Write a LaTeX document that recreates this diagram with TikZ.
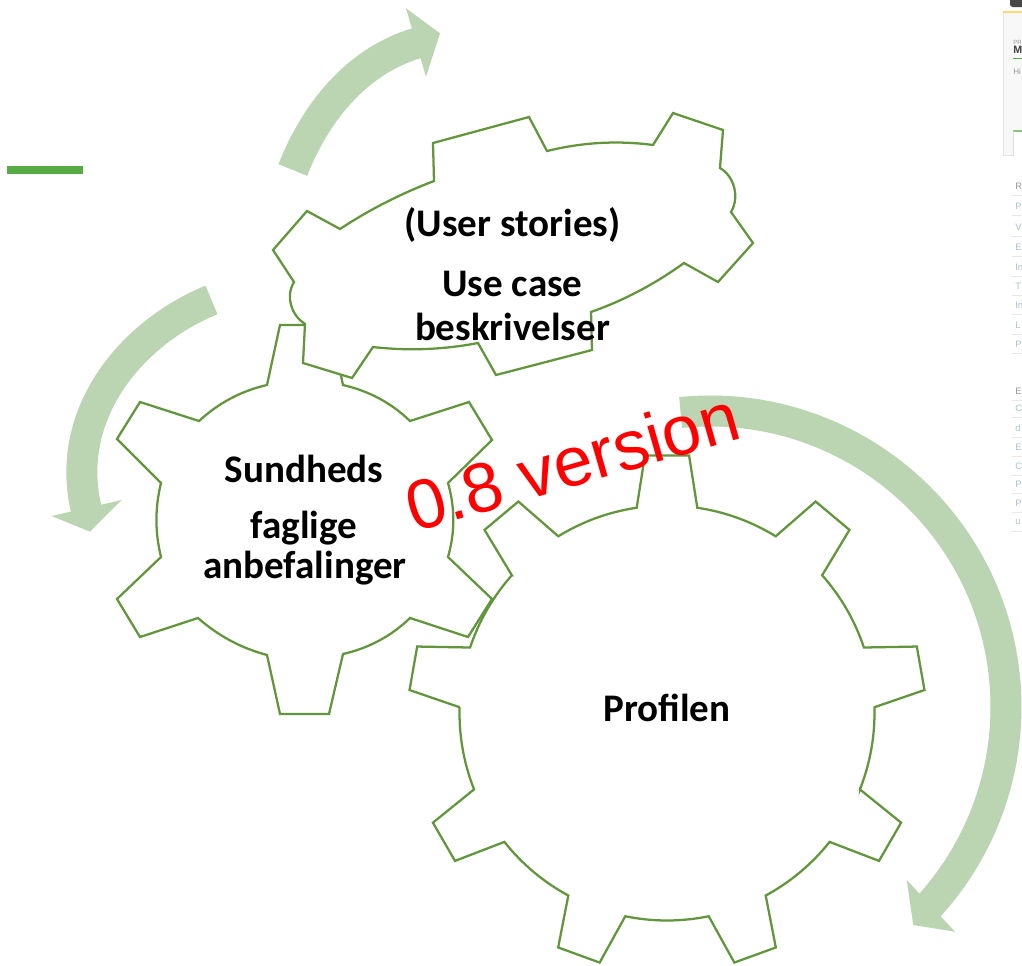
\documentclass[tikz,border=0pt]{standalone}
\usepackage{fontspec}
\newfontfamily\calibri{Carlito}
\newfontfamily\arialf{Liberation Sans}
\definecolor{gearline}{RGB}{98,150,60}
\definecolor{arrowfill}{RGB}{187,212,177}
\definecolor{barcol}{RGB}{86,171,69}
\definecolor{scrpanel}{RGB}{248,248,248}
\definecolor{scrhead}{RGB}{150,150,150}
\definecolor{scritem}{RGB}{172,192,205}
\definecolor{scrsep}{RGB}{232,232,232}
\tikzset{
  gear/.style={draw=gearline, line width=1.7pt, fill=white, line join=miter},
  band/.style={draw=arrowfill, line width=23.25pt, line cap=butt},
  headtip/.style={fill=arrowfill, draw=none},
  lbl/.style={font=\calibri\bfseries\fontsize{29.3}{29.3}\selectfont, anchor=base, inner sep=0pt},
  ver/.style={font=\arialf\fontsize{52.5}{52.5}\selectfont, text=red, anchor=base, inner sep=0pt, rotate=16},
  scrtxt/.style={font=\arialf\fontsize{7}{7}\selectfont, anchor=west, inner sep=0pt, text=scritem},
  scrhd/.style={scrtxt, text=scrhead},
}
\begin{document}
\begin{tikzpicture}[x=0.75pt,y=-0.75pt]
\useasboundingbox (0,0) rectangle (1022,965);
\fill[white] (0,0) rectangle (1022,965);
\clip (0,0) rectangle (1022,965);

% green bar
\fill[barcol] (7,166) rectangle (83,174);

% circular arrows
\draw[band] (292.8,170) .. controls (314.9,113.9) and (355.3,61.6) .. (416.2,43.3) -- (419,42.4);
\fill[headtip] (406,8.3) -- (440,33.3) -- (426,76.7) -- cycle;

\draw[band] (211.5,299.9) .. controls (131.1,332.8) and (64.3,413.6) .. (86,508.1) -- (86.7,511);
\fill[headtip] (51.7,516) -- (90,531.7) -- (121.7,500) -- cycle;

\draw[band] (710,707) ++(-95.7:296) arc[start angle=-95.7, end angle=42.6, radius=296];
\fill[headtip] (906.7,880) -- (913.3,925) -- (955,931.7) -- cycle;

% Sundheds gear
\draw[gear] (267,385) -- (280,325) -- (330,325) -- (343,385)
  .. controls (369.1,391) and (391.4,403) .. (410,421)
  -- (469,402) -- (492,440) -- (448,483)
  .. controls (455.1,507.7) and (455.1,532.3) .. (448,557)
  -- (492,599) -- (468,637) -- (410,618)
  .. controls (391.4,636) and (369.1,648) .. (343,654)
  -- (329,714) -- (280,714) -- (267,655)
  .. controls (240.9,648) and (218.6,636) .. (198,618)
  -- (140,637) -- (117,599) -- (161,557)
  .. controls (154.9,532.3) and (154.9,507.7) .. (161,483)
  -- (117,439) -- (140,402) -- (199,421)
  .. controls (218.6,403) and (240.9,391) .. (267,385) -- cycle;

% Profilen gear
\begin{scope}[shift={(667,713)}]
\draw[gear] ({-98.4}:207.5)
  \foreach \a [evaluate=\a as \bl using \a-8.4,
               evaluate=\a as \tl using \a-4.9,
               evaluate=\a as \tr using \a+4.9,
               evaluate=\a as \br using \a+8.4,
               evaluate=\a as \nx using \a+31.6] in {-90,-50,-10,30,70,110,150,190,230}
  { -- (\bl:207.5) -- (\tl:258.5) -- (\tr:258.5) -- (\br:207.5)
    arc[start angle=\br, end angle=\nx, radius=207.5] } -- cycle;
\end{scope}

% User stories gear
\draw[gear] (294,282) -- (273,250) -- (307,211) -- (340,229)
  .. controls (369.3,209.7) and (400.7,193.7) .. (434,181)
  -- (433,143) -- (529,117) -- (547,151)
  .. controls (582.3,142.3) and (617.7,140.3) .. (653,145)
  -- (673,113) -- (723,130) -- (720,168)
  .. controls (734,176) and (740,197) .. (731,212)
  -- (753,243) -- (718,282) -- (684,263)
  .. controls (655,284) and (624,300.3) .. (591,312)
  -- (592,350) -- (496,375) -- (478,343)
  .. controls (443,349.7) and (408,351) .. (373,347)
  -- (352,378) -- (303,363) -- (305,324)
  .. controls (292,316) and (285,297) .. (294,282) -- cycle;

% labels
\node[lbl] (us)  at (512.5,236.7) {(User stories)};
\node[lbl] (uc1) at (512.5,296.7) {Use case};
\node[lbl] (uc2) at (512.5,340) {beskrivelser};
\node[lbl] (s1)  at (304,482) {Sundheds};
\node[lbl] (s2)  at (304,538.3) {faglige};
\node[lbl] (s3)  at (305,578.3) {anbefalinger};
\node[lbl] (pr)  at (667,721) {Profilen};
\node[ver] (ver) at (579,485) {0.8 version};

% cut-off screenshot at the right edge
\fill[black!72, rounded corners=2pt] (1010,-6) rectangle (1030,7);
\fill[scrpanel] (1003,12) rectangle (1023,155);
\draw[black!10, line width=0.6pt] (1003,12) -- (1003,155) -- (1023,155);
\draw[yellow!55!orange!55, line width=0.9pt] (1003,12) -- (1023,12);
\node[scrhd, font=\arialf\fontsize{4.5}{4.5}\selectfont] (pr1) at (1013,42) {PR};
\node[scrhd, text=black!75, font=\arialf\bfseries\fontsize{8}{8}\selectfont] (m1) at (1013,50) {M};
\draw[barcol, line width=0.75pt] (1013,58) -- (1023,58);
\node[scrhd, font=\arialf\fontsize{6}{6}\selectfont] (hi1) at (1013,72) {Hi};
\fill[white] (1013,131) rectangle (1023,156);
\draw[barcol!70, line width=1pt] (1013,131) -- (1023,131);
\draw[black!12, line width=0.6pt] (1013,131) -- (1013,156);

\foreach \t/\y/\st [count=\i] in {R/186/scrhd, P/206/scrtxt, V/227/scrtxt, E/247/scrtxt,
    In/267/scrtxt, T/286/scrtxt, In/305/scrtxt, L/325/scrtxt, P/344/scrtxt,
    E/391/scrhd, C/408/scrtxt, d/428/scrtxt, E/447/scrtxt, C/466/scrtxt,
    P/484/scrtxt, P/503/scrtxt, u/522/scrtxt}
{
  \node[\st] (li\i) at (1015,\y) {\t};
  \draw[scrsep, line width=0.5pt] (1012,\y+9.5) -- (1023,\y+9.5);
}
\end{tikzpicture}
\end{document}
